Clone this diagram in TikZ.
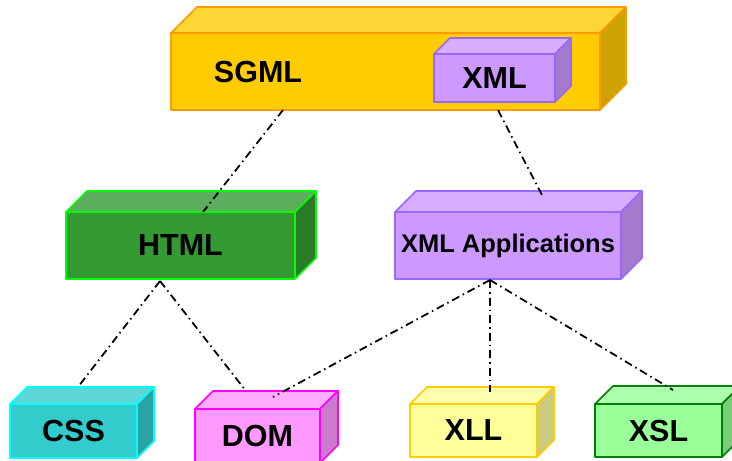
\documentclass[tikz,border=0pt]{standalone}
\usepackage{fontspec}
\setmainfont{Liberation Sans}
\usetikzlibrary{calc}
\definecolor{sgF}{HTML}{FFCC00}\definecolor{sgT}{HTML}{FFD633}\definecolor{sgS}{HTML}{CCA300}\definecolor{sgB}{HTML}{FF9900}
\definecolor{xmF}{HTML}{CC99FF}\definecolor{xmT}{HTML}{D6ADFF}\definecolor{xmS}{HTML}{A37ACC}\definecolor{xmB}{HTML}{9966FF}
\definecolor{htF}{HTML}{339933}\definecolor{htT}{HTML}{5CAD5C}\definecolor{htS}{HTML}{297A29}\definecolor{htB}{HTML}{00FF00}
\definecolor{csF}{HTML}{33CCCC}\definecolor{csT}{HTML}{5CD6D6}\definecolor{csS}{HTML}{29A3A3}\definecolor{csB}{HTML}{00FFFF}
\definecolor{doF}{HTML}{FF99FF}\definecolor{doT}{HTML}{FFADFF}\definecolor{doS}{HTML}{CC7ACC}\definecolor{doB}{HTML}{FF00FF}
\definecolor{xlF}{HTML}{FFFF99}\definecolor{xlT}{HTML}{FFFFAD}\definecolor{xlS}{HTML}{CCCC7A}\definecolor{xlB}{HTML}{FFCC00}
\definecolor{xsF}{HTML}{99FF99}\definecolor{xsT}{HTML}{ADFFAD}\definecolor{xsS}{HTML}{7ACC7A}\definecolor{xsB}{HTML}{008000}
\tikzset{
  face/.style={line width=1.6pt, line join=round},
  frontbox/.style={rectangle, face, outer sep=0pt, inner sep=0pt, font=\fontsize{30.5}{35}\selectfont\bfseries},
  link/.style={line width=1.8pt, dash pattern=on 8pt off 4pt on 1.5pt off 4pt, black}
}
% #1 name, #2 depth, #3 top colour, #4 side colour, #5 border colour
\newcommand{\cubefaces}[5]{%
  \draw[face, draw=#5, fill=#3] (#1.north west) -- ($(#1.north west)+(#2,-#2)$) -- ($(#1.north east)+(#2,-#2)$) -- (#1.north east) -- cycle;
  \draw[face, draw=#5, fill=#4] (#1.north east) -- ($(#1.north east)+(#2,-#2)$) -- ($(#1.south east)+(#2,-#2)$) -- (#1.south east) -- cycle;
}
\begin{document}
\begin{tikzpicture}[x=1pt,y=-1pt]
\useasboundingbox (0,0) rectangle (732,461);
% SGML
\node[frontbox, draw=sgB, fill=sgF, minimum width=429pt, minimum height=77pt] (sgml) at (385.5,71.5) {};
\cubefaces{sgml}{26}{sgT}{sgS}{sgB}
\node[font=\fontsize{30.5}{35}\selectfont\bfseries] (sgmllabel) at (258,72) {SGML};
% XML inside SGML
\node[frontbox, draw=xmB, fill=xmF, minimum width=121pt, minimum height=48pt] (xml) at (494.5,78) {XML};
\cubefaces{xml}{16}{xmT}{xmS}{xmB}
% HTML
\node[frontbox, draw=htB, fill=htF, minimum width=229pt, minimum height=67pt] (html) at (180.5,245.5) {HTML};
\cubefaces{html}{21}{htT}{htS}{htB}
% XML Applications
\node[frontbox, draw=xmB, fill=xmF, minimum width=226pt, minimum height=67pt, font=\fontsize{25.5}{30}\selectfont\bfseries] (xmlapp) at (508,245.5) {XML Applications};
\cubefaces{xmlapp}{21}{xmT}{xmS}{xmB}
% CSS
\node[frontbox, draw=csB, fill=csF, minimum width=127pt, minimum height=54pt] (css) at (73.5,431) {CSS};
\cubefaces{css}{17}{csT}{csS}{csB}
% DOM
\node[frontbox, draw=doB, fill=doF, minimum width=125pt, minimum height=54pt] (dom) at (257.5,436) {DOM};
\cubefaces{dom}{18}{doT}{doS}{doB}
% XLL
\node[frontbox, draw=xlB, fill=xlF, minimum width=127pt, minimum height=53pt] (xll) at (473.5,430.5) {XLL};
\cubefaces{xll}{17}{xlT}{xlS}{xlB}
% XSL
\node[frontbox, draw=xsB, fill=xsF, minimum width=127pt, minimum height=53pt] (xsl) at (658.5,430.5) {XSL};
\cubefaces{xsl}{18}{xsT}{xsS}{xsB}
% connectors
\draw[link] ($(sgml.south)+(-102.5,0)$) -- ($(html.north)+(22.5,0)$);
\draw[link] ($(sgml.south)+(112.5,0)$) -- ($(xmlapp.north)+(35,-15)$);
\coordinate (hb) at ($(html.south)+(-20.5,2)$);
\coordinate (xb) at ($(xmlapp.south)+(-18,1)$);
\draw[link] (hb) -- ($(css.north)+(4.5,-17)$);
\draw[link] (hb) -- ($(dom.north)+(-11.5,-18)$);
\draw[link] (xb) -- ($(dom.north)+(15.5,-12)$);
\draw[link] (xb) -- ($(xll.north)+(16.5,-12)$);
\draw[link] (xb) -- ($(xsl.north)+(14.5,-14)$);
\end{tikzpicture}
\end{document}
